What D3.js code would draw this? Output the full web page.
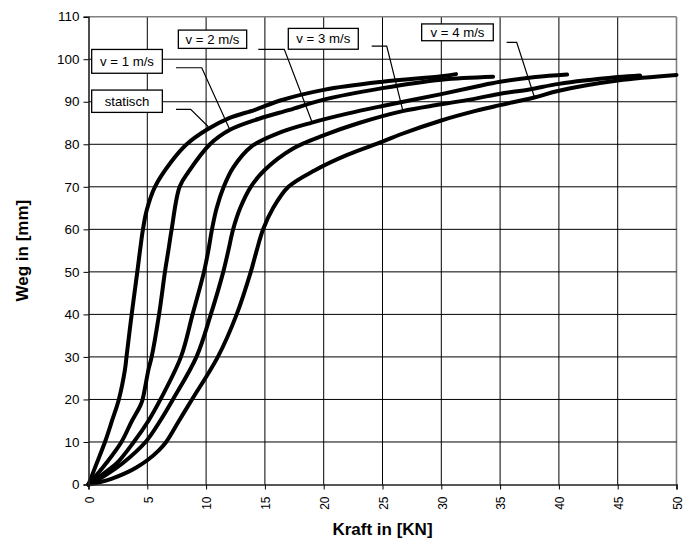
<!DOCTYPE html>
<html>
<head>
<meta charset="utf-8">
<script src="https://cdn.jsdelivr.net/npm/d3@7"></script>
<style>
  html, body { margin: 0; padding: 0; background: #fff; }
  svg { display: block; }
  text { font-family: "Liberation Sans", Arial, sans-serif; fill: #000; }
</style>
</head>
<body>
<script>
// Kraft–Weg curves of the damper at different impact speeds
const xTicks = [0, 5, 10, 15, 20, 25, 30, 35, 40, 45, 50];
const yTicks = [0, 10, 20, 30, 40, 50, 60, 70, 80, 90, 100, 110];

// [Kraft in kN, Weg in mm]
const statisch = [[0,0],[0.7,5],[1.4,10],[2.0,15],[2.58,20],[3.1,27],[3.23,30],[3.67,40],[4.15,50],[4.38,55],[4.63,60],[4.95,64.5],[5.65,70],[7.07,76],[8.35,80],[10.05,83.4],[12,86.2],[14.16,88.1],[16.3,90.3],[20,92.8],[25,94.7],[30,96],[31.25,96.5]];
const v1 = [[0,0],[1.5,5],[2.8,10],[3.7,15],[4.4,18.5],[4.6,20],[5.1,27],[5.37,30],[6.0,40],[6.5,50],[6.79,55],[7.07,60],[7.75,70],[8.5,73.5],[10.33,80],[12.03,83.4],[14.5,86],[17.1,88.1],[20,90.5],[25,93.2],[30,95.2],[34.4,95.9]];
const v2 = [[0,0],[1.2,2.4],[2.4,5],[3.85,10],[5.1,15],[6.12,20],[7.86,30],[8.85,40],[9.82,50],[10.19,55],[10.5,60],[10.9,65],[11.5,70],[12.3,74.5],[13.87,79.5],[16.3,82.8],[19,85.1],[22,87.2],[25,89],[30,91.8],[33,93.6],[35,94.7],[38,95.8],[40.7,96.4]];
const v3 = [[0,0],[1.5,2.3],[2.9,5],[4.85,10],[6.1,15],[7.18,20],[9.18,30],[10.4,40],[11.46,50],[11.89,55],[12.3,60],[12.9,65],[13.8,70],[15,74],[17.4,79],[20.1,82.2],[23,85],[26.7,87.8],[30,89.4],[33,90.8],[35,91.9],[37.5,92.9],[40,94.2],[45,95.8],[46.9,96.2]];
const v4 = [[0,0],[1,0.6],[2,1.4],[3,2.5],[4,3.9],[5,5.7],[6,8.1],[6.6,10],[7.7,15],[8.8,20],[11,30],[12.6,40],[13.8,50],[14.3,55],[14.85,60],[15.7,65],[17,70],[19.26,73.9],[22,77.5],[25,80.6],[26.5,82.3],[30,85.6],[33,87.9],[35,89.2],[37.9,91],[40,92.6],[45,95],[50,96.3]];

const seriesNames = ["statisch", "v = 1 m/s", "v = 2 m/s", "v = 3 m/s", "v = 4 m/s"];
const seriesData = [statisch, v1, v2, v3, v4];

// Label boxes and leader lines, in data units (kN, mm)
const labelBoxes = [
  { x0: 0.27, x1: 6.28, y0: 87.5, y1: 92.75 },
  { x0: 0.27, x1: 6.28, y0: 96.7, y1: 102.3 },
  { x0: 7.64, x1: 13.45, y0: 102.55, y1: 106.85 },
  { x0: 16.99, x1: 22.94, y0: 102.35, y1: 107.25 },
  { x0: 28.33, x1: 34.42, y0: 104.35, y1: 108.3 }
];
const leaders = [
  [[7.44, 88.22], [8.69, 88.22], [10.19, 84.13]],
  [[7.44, 98.0], [9.63, 98.0], [12.03, 83.36]],
  [[14.44, 102.33], [16.65, 102.33], [19.03, 85.07]],
  [[24.08, 103.1], [25.36, 103.1], [26.72, 88.04]],
  [[35.56, 103.97], [36.41, 103.97], [37.91, 91.18]]
];

const W = 693, H = 543;
const svg = d3.select("body").append("svg").attr("width", W).attr("height", H);
svg.append("rect").attr("width", W).attr("height", H).attr("fill", "#fff");

const x = d3.scaleLinear().domain([0, 50]).range([88.5, 676.5]);
const y = d3.scaleLinear().domain([0, 110]).range([484.5, 16.7]);

// grid
const grid = svg.append("g");
grid.selectAll("line.v").data(xTicks.slice(1)).join("line")
  .attr("x1", d => x(d)).attr("x2", d => x(d))
  .attr("y1", y(0)).attr("y2", y(110))
  .attr("stroke", d => d === 50 ? "#808080" : "#000").attr("stroke-width", d => d === 50 ? 1.6 : 1);
grid.selectAll("line.h").data(yTicks.slice(1)).join("line")
  .attr("x1", x(0)).attr("x2", x(50))
  .attr("y1", d => y(d)).attr("y2", d => y(d))
  .attr("stroke", d => d === 110 ? "#808080" : "#000").attr("stroke-width", d => d === 110 ? 1.6 : 1);

// curves
const line = d3.line().x(d => x(d[0])).y(d => y(d[1])).curve(d3.curveCatmullRom.alpha(0.5));
svg.append("g").selectAll("path").data(seriesData).join("path")
  .attr("d", line)
  .attr("fill", "none").attr("stroke", "#000").attr("stroke-width", 4)
  .attr("stroke-linejoin", "round").attr("stroke-linecap", "round");

// axes
const gx = svg.append("g").attr("transform", `translate(0,${y(0)})`)
  .call(d3.axisBottom(x).tickValues(xTicks).tickSize(5).tickFormat(d3.format("d")));
gx.select(".domain").attr("stroke", "#222").attr("stroke-width", 1.6);
gx.selectAll(".tick line").attr("stroke", "#000");
gx.selectAll(".tick text")
  .attr("font-size", 12).attr("font-family", "Liberation Sans, Arial, sans-serif")
  .attr("text-anchor", "end").attr("y", null).attr("dy", "0.35em")
  .attr("transform", "translate(0,12) scale(1.12,1) rotate(-90)");

const gy = svg.append("g").attr("transform", `translate(${x(0)},0)`)
  .call(d3.axisLeft(y).tickValues(yTicks).tickSize(5).tickFormat(d3.format("d")));
gy.select(".domain").attr("stroke", "#222").attr("stroke-width", 1.6);
gy.selectAll(".tick line").attr("stroke", "#000");
gy.selectAll(".tick text")
  .attr("font-size", 12).attr("font-family", "Liberation Sans, Arial, sans-serif")
  .attr("x", null).attr("dy", "0.35em")
  .attr("transform", "translate(-9,0) scale(1.12,1)");

// axis titles
svg.append("text").attr("x", (x(0) + x(50)) / 2).attr("y", 535)
  .attr("text-anchor", "middle").attr("font-weight", "bold").attr("font-size", 17)
  .text("Kraft in [KN]");
svg.append("text").attr("transform", `translate(28,${(y(0) + y(110)) / 2}) rotate(-90)`)
  .attr("text-anchor", "middle").attr("font-weight", "bold").attr("font-size", 17)
  .text("Weg in [mm]");

// leader lines
const leaderLine = d3.line().x(d => x(d[0])).y(d => y(d[1]));
svg.append("g").selectAll("path").data(leaders).join("path")
  .attr("d", leaderLine).attr("fill", "none").attr("stroke", "#000").attr("stroke-width", 1.2);

// label boxes
const lab = svg.append("g").selectAll("g").data(labelBoxes).join("g");
lab.append("rect")
  .attr("x", d => x(d.x0)).attr("y", d => y(d.y1))
  .attr("width", d => x(d.x1) - x(d.x0)).attr("height", d => y(d.y0) - y(d.y1))
  .attr("fill", "#fff").attr("stroke", "#000").attr("stroke-width", 1.3);
lab.append("text")
  .attr("transform", d => `translate(${(x(d.x0) + x(d.x1)) / 2},${(y(d.y0) + y(d.y1)) / 2 + 4.3}) scale(1.1,1)`)
  .attr("text-anchor", "middle").attr("font-size", 12)
  .text((d, i) => seriesNames[i]);
</script>
</body>
</html>
